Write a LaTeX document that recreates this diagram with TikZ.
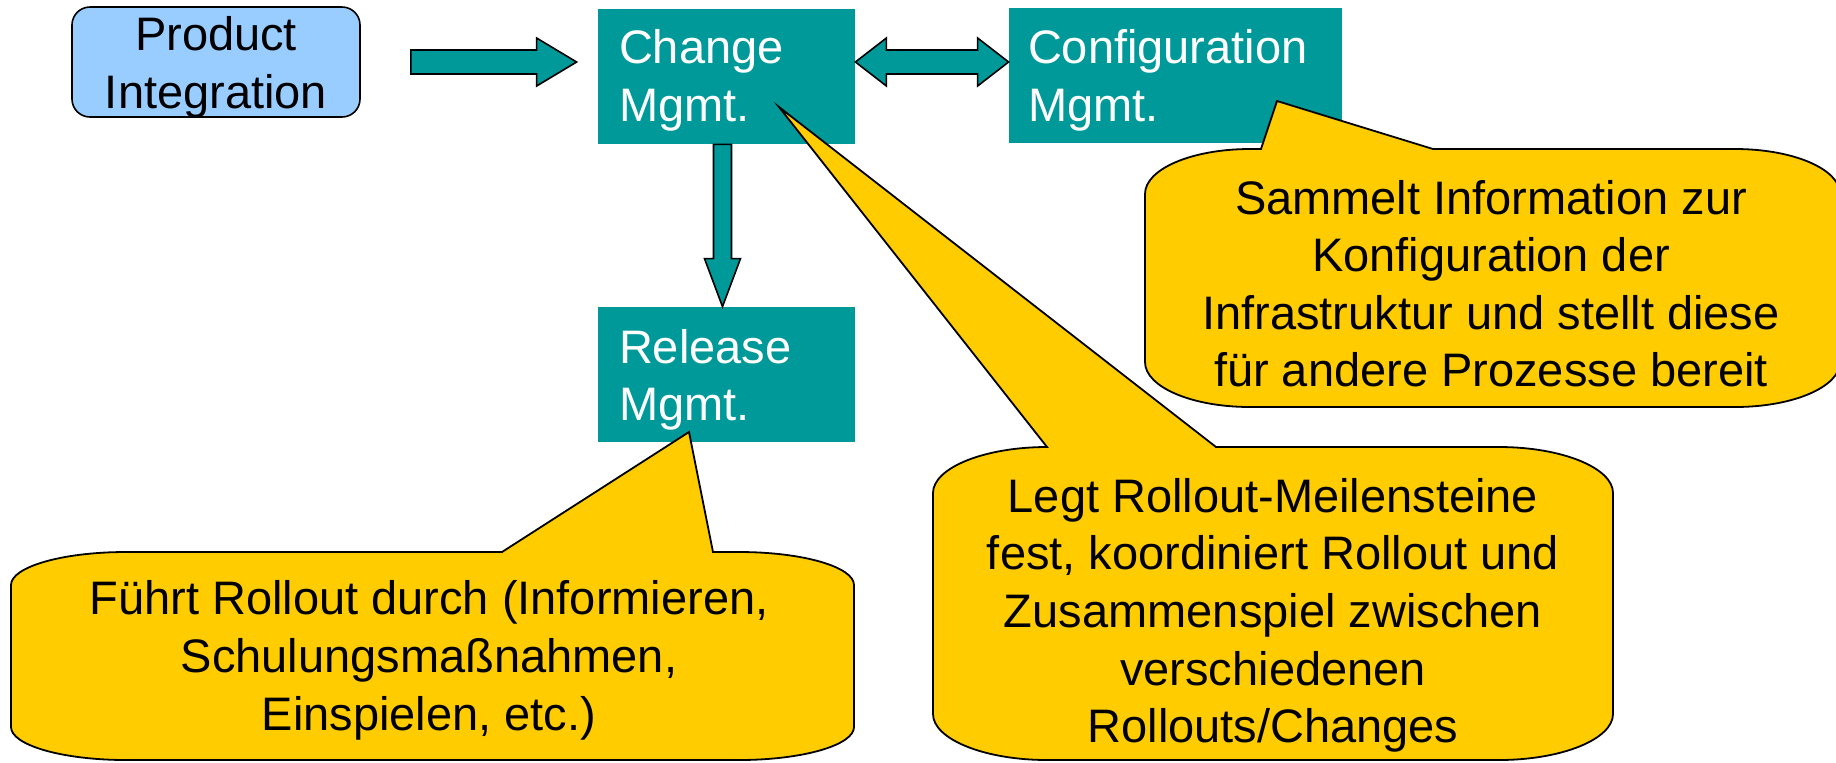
\documentclass[tikz,border=0pt]{standalone}
\usepackage{fontspec}
\setmainfont{Liberation Sans}
\usetikzlibrary{calc}
\definecolor{mgmtteal}{HTML}{009999}
\definecolor{noteyellow}{HTML}{FFCC00}
\definecolor{piblue}{HTML}{99CCFF}
\tikzset{
  diagfont/.style={font=\fontsize{23.5}{28.8}\selectfont},
  mgmtbox/.style={draw=none, fill=mgmtteal, inner sep=0pt},
  pibox/.style={draw=black, line width=0.8pt, fill=piblue, rounded corners=9pt, inner sep=0pt},
  boxlabel/.style={diagfont, inner sep=0pt, align=left, text=white},
  pilabel/.style={diagfont, inner sep=0pt, align=center, text=black},
  blockarrow/.style={draw=black, line width=0.8pt, fill=mgmtteal, line join=miter},
  callout/.style={draw=black, line width=0.9pt, fill=noteyellow, line join=miter},
  notetext/.style={diagfont, inner sep=0pt, align=center, text=black}
}
\begin{document}
\begin{tikzpicture}[x=0.5pt, y=-0.5pt]
\useasboundingbox (0,0) rectangle (1836,762);

% process boxes
\node[pibox, minimum width=144pt, minimum height=55pt] (pi) at (216,62) {};
\node[mgmtbox, minimum width=128.5pt, minimum height=67.5pt] (chg) at (726.5,76.5) {};
\node[mgmtbox, minimum width=166.5pt, minimum height=67.5pt] (cfg) at (1175.5,75.5) {};
\node[mgmtbox, minimum width=128.5pt, minimum height=67.5pt] (rel) at (726.5,374.5) {};

\node[pilabel] (pilbl) at ($(pi.center)+(0,6)$) {\strut Product\\\strut Integration};
\node[boxlabel, anchor=west] (chglbl) at ($(chg.west)+(21,4.5)$) {\strut Change\\\strut Mgmt.};
\node[boxlabel, anchor=west] (cfglbl) at ($(cfg.west)+(19,5.5)$) {\strut Configuration\\\strut Mgmt.};
\node[boxlabel, anchor=west] (rellbl) at ($(rel.west)+(21,6)$) {\strut Release\\\strut Mgmt.};

% block arrow: Product Integration -> Change Mgmt.
\coordinate (a1tail) at ($(pi.east)+(50,0)$);
\coordinate (a1tip) at ($(chg.west|-pi.east)+(-21,0)$);
\draw[blockarrow] ($(a1tail)+(0,-12)$) -- ($(a1tip)+(-40,-12)$) -- ($(a1tip)+(-40,-24)$)
  -- (a1tip) -- ($(a1tip)+(-40,24)$) -- ($(a1tip)+(-40,12)$) -- ($(a1tail)+(0,12)$) -- cycle;

% double block arrow: Change Mgmt. <-> Configuration Mgmt.
\coordinate (a2l) at ($(chg.east|-pi.east)$);
\coordinate (a2r) at ($(cfg.west|-pi.east)$);
\draw[blockarrow] (a2l) -- ($(a2l)+(31,-24)$) -- ($(a2l)+(31,-12)$) -- ($(a2r)+(-31,-12)$)
  -- ($(a2r)+(-31,-24)$) -- (a2r) -- ($(a2r)+(-31,24)$) -- ($(a2r)+(-31,12)$)
  -- ($(a2l)+(31,12)$) -- ($(a2l)+(31,24)$) -- cycle;

% block arrow: Change Mgmt. -> Release Mgmt.
\coordinate (a3tail) at ($(chg.south)+(-4,0)$);
\coordinate (a3tip) at ($(rel.north)+(-4,0)$);
\draw[blockarrow] ($(a3tail)+(-9,0)$) -- ($(a3tip)+(-9,-48)$) -- ($(a3tip)+(-18,-48)$)
  -- (a3tip) -- ($(a3tip)+(18,-48)$) -- ($(a3tip)+(9,-48)$) -- ($(a3tail)+(9,0)$) -- cycle;

% callout pointers end inside the boxes they annotate
\coordinate (tipC) at (1277,101);
\coordinate (tipL) at (779,107);
\coordinate (tipF) at (689,432);

% callout for Configuration Mgmt. (runs past the right edge)
\draw[callout] (1250,149) -- (1261,149) -- (tipC) -- (1433,149) -- (1735,149)
  .. controls (1793,149) and (1840,169) .. (1840,194)
  -- (1840,362)
  .. controls (1840,387) and (1793,407) .. (1735,407)
  -- (1250,407)
  .. controls (1192,407) and (1145,387) .. (1145,362)
  -- (1145,194)
  .. controls (1145,169) and (1192,149) .. (1250,149) -- cycle;

% callout for Change Mgmt.
\draw[callout] (1047,447) -- (tipL) -- (1216,447) -- (1499,447)
  .. controls (1562,447) and (1613,468) .. (1613,493)
  -- (1613,714)
  .. controls (1613,739) and (1562,760) .. (1499,760)
  -- (1047,760)
  .. controls (984,760) and (933,739) .. (933,714)
  -- (933,493)
  .. controls (933,468) and (984,447) .. (1047,447) -- cycle;

% callout for Release Mgmt.
\draw[callout] (126,552) -- (502,552) -- (tipF) -- (713,552) -- (739,552)
  .. controls (803,552) and (854,567) .. (854,585)
  -- (854,727)
  .. controls (854,745) and (803,760) .. (739,760)
  -- (126,760)
  .. controls (62,760) and (11,745) .. (11,727)
  -- (11,585)
  .. controls (11,567) and (62,552) .. (126,552) -- cycle;

\node[notetext] (noteC) at (1491,289) {\strut Sammelt Information zur\\Konfiguration der\\Infrastruktur und stellt diese\\\strut für andere Prozesse bereit};
\node[notetext] (noteL) at (1273,616) {\strut Legt Rollout-Meilensteine\\fest, koordiniert Rollout und\\Zusammenspiel zwischen\\verschiedenen\\\strut Rollouts/Changes};
\node[notetext] (noteF) at (429,661) {\strut Führt Rollout durch (Informieren,\\Schulungsmaßnahmen,\\\strut Einspielen, etc.)};
\end{tikzpicture}
\end{document}
